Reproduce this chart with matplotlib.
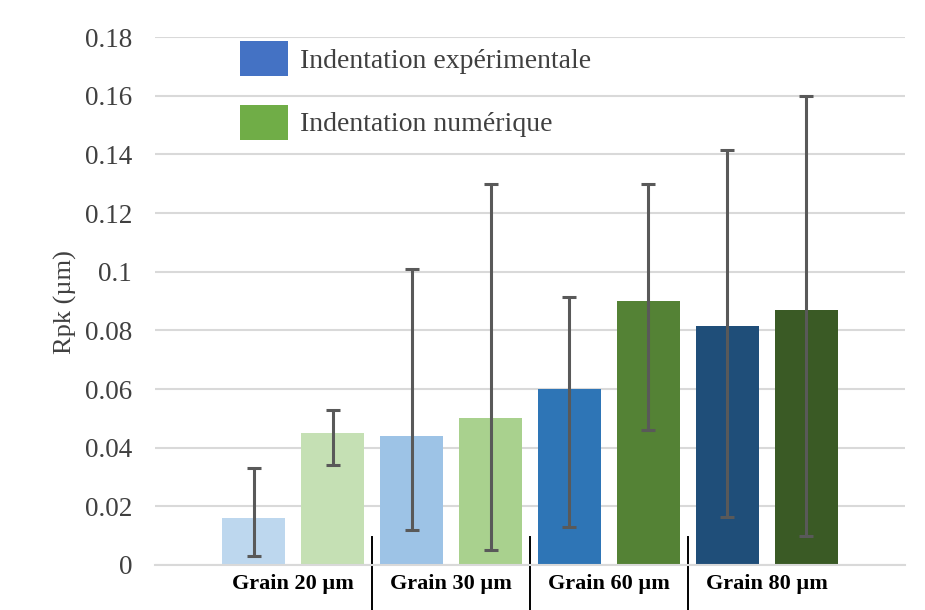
import matplotlib
matplotlib.use("Agg")
import matplotlib.pyplot as plt
from matplotlib.patches import Patch
import matplotlib.transforms as mtransforms

# Data
groups = ["Grain 20 µm", "Grain 30 µm", "Grain 60 µm", "Grain 80 µm"]
bar_values = [0.016, 0.045, 0.044, 0.050, 0.060, 0.090, 0.0815, 0.087]
err_low = [0.003, 0.034, 0.012, 0.005, 0.013, 0.046, 0.0165, 0.010]
err_high = [0.033, 0.053, 0.101, 0.130, 0.0915, 0.130, 0.1415, 0.160]
bar_colors = ["#BDD7EE", "#C5E0B4", "#9DC3E6", "#A9D18E",
              "#2E75B6", "#548235", "#1F4E79", "#3A5A25"]
legend_labels = ["Indentation expérimentale", "Indentation numérique"]
legend_colors = ["#4472C4", "#70AD47"]
yticks = [0, 0.02, 0.04, 0.06, 0.08, 0.1, 0.12, 0.14, 0.16, 0.18]
ytick_labels = ["0", "0.02", "0.04", "0.06", "0.08", "0.1", "0.12", "0.14", "0.16", "0.18"]

serif = ["Liberation Serif", "DejaVu Serif"]
plt.rcParams["font.family"] = serif

fig = plt.figure(figsize=(9.25, 6.10), dpi=100)
ax = fig.add_axes([155/925, 1-565/610, 750/925, 528/610])

x = list(range(len(bar_values)))
yerr = [[v - lo for v, lo in zip(bar_values, err_low)],
        [hi - v for v, hi in zip(bar_values, err_high)]]
ax.bar(x, bar_values, width=0.8, color=bar_colors, zorder=2)
ax.errorbar(x, bar_values, yerr=yerr, fmt="none", ecolor="#595959",
            elinewidth=2.2, capsize=5, capthick=2.2, zorder=3)

ax.set_xlim(-1.25, len(bar_values) - 1 + 1.25)
ax.set_ylim(0, 0.18)
ax.set_yticks(yticks)
ax.set_yticklabels(ytick_labels, fontsize=19.5, color="#404040")
ax.tick_params(axis="y", length=0, pad=16.5)
ax.set_xticks([])
ax.grid(axis="y", color="#D9D9D9", linewidth=1.5, zorder=0)
ax.set_axisbelow(True)
for s in ["top", "right", "left"]:
    ax.spines[s].set_visible(False)
ax.spines["bottom"].set_color("#D9D9D9")
ax.spines["bottom"].set_linewidth(1.5)

ax.set_ylabel("Rpk (µm)", fontsize=19, color="#404040")
ax.yaxis.set_label_coords((77 - 155) / 750, (565 - 302) / 528)

# Group labels and separators
trans = mtransforms.blended_transform_factory(ax.transData, ax.transAxes)
for i, g in enumerate(groups):
    ax.text(2 * i + 0.5, -(584 - 565) / 528, g, transform=trans, ha="center",
            va="center", fontsize=16, fontweight="bold", color="black")
for i in range(len(groups) - 1):
    xs = 2 * i + 1.5
    ax.plot([xs, xs], [(565 - 537) / 528, -(610 - 565) / 528], transform=trans,
            color="black", linewidth=1.4, clip_on=False)

handles = [Patch(facecolor=c, edgecolor="none") for c in legend_colors]
leg = ax.legend(handles, legend_labels, loc="upper left",
                bbox_to_anchor=((240 - 155) / 750, (565 - 41) / 528),
                frameon=False, fontsize=20, handlelength=1.73, handleheight=1.55,
                handletextpad=0.43, labelspacing=1.05, borderpad=0, borderaxespad=0)
for t in leg.get_texts():
    t.set_color("#404040")

fig.savefig("out.png", dpi=100, facecolor="white")
